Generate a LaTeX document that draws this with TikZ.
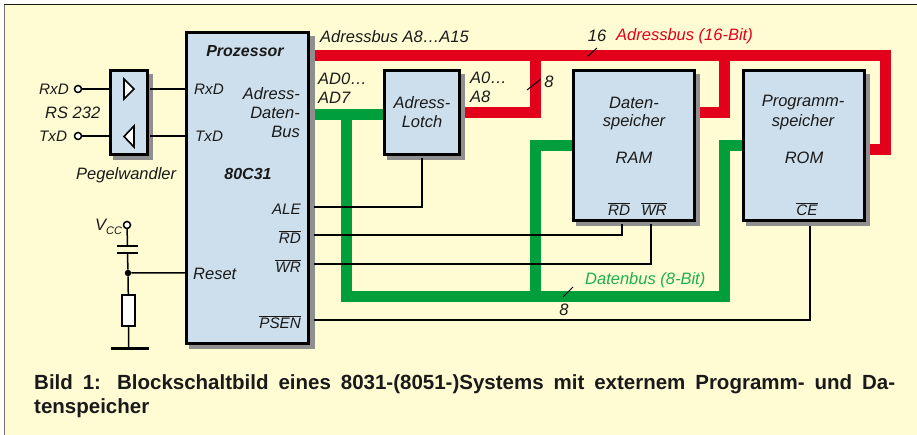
\documentclass[tikz,border=0pt]{standalone}
\usepackage{fontspec}
\setmainfont{Liberation Sans}
\definecolor{bgy}{HTML}{FFFBD2}
\definecolor{boxb}{HTML}{CDDFEC}
\definecolor{busr}{HTML}{E2001A}
\definecolor{busg}{HTML}{009F3C}
\definecolor{txtg}{HTML}{1DAF50}
\definecolor{shad}{HTML}{8F8F8F}
\definecolor{ink}{HTML}{1A1A1A}
\newcommand{\ovl}[1]{$\overline{\mbox{#1}}$}
\tikzset{
  x=1pt,y=-1pt,
  blockbox/.style={draw=black,line width=3pt,fill=boxb,rectangle,inner sep=0pt,anchor=north west},
  shadowbox/.style={fill=shad,draw=none},
  lab/.style={font=\fontsize{16.5}{16.5}\selectfont\itshape,text=ink,inner sep=0pt},
  slab/.style={font=\fontsize{15.2}{15.2}\selectfont\itshape,text=ink,inner sep=0pt},
  blab/.style={font=\fontsize{16}{16}\selectfont\itshape\bfseries,text=ink,inner sep=0pt},
  wire/.style={line width=1.5pt,black},
  redbus/.style={line width=11pt,busr,line join=miter},
  greenbus/.style={line width=11pt,busg,line join=miter},
  term/.style={circle,draw=black,line width=1.5pt,fill=white,minimum size=7pt,inner sep=0pt},
}
\begin{document}
\begin{tikzpicture}
\useasboundingbox (0,0) rectangle (917,435);
\fill[white] (0,0) rectangle (917,435);
\fill[bgy] (4,4.5) rectangle (917,435);
\draw[line width=1.2pt,shad!80!black] (4.5,4.5) -- (4.5,435);
\draw[line width=1.6pt,ink] (4,4.5) -- (917,4.5);

% named anchors
\coordinate (procR) at (309,55.5);
\coordinate (busE) at (885,55.5);
\coordinate (busS) at (885,150);
\coordinate (romR) at (869,150);
\coordinate (ramT) at (724,55.5);
\coordinate (ramB) at (724,112.5);
\coordinate (ramR) at (696,112.5);
\coordinate (latT) at (535.5,55.5);
\coordinate (latB) at (535.5,112.5);
\coordinate (latR) at (465,112.5);
\coordinate (adL) at (309,115);
\coordinate (adR) at (384,115);
\coordinate (gA) at (346.5,115);
\coordinate (gB) at (346.5,296.5);
\coordinate (gC) at (724,296.5);
\coordinate (gD) at (724,146);
\coordinate (gE) at (743,146);
\coordinate (gF) at (535.5,296.5);
\coordinate (gG) at (535.5,146);
\coordinate (gH) at (573,146);

% buses
\draw[redbus] (procR) -- (busE) -- (busS) -- (romR);
\draw[redbus] (ramT) -- (ramB) -- (ramR);
\draw[redbus] (latT) -- (latB) -- (latR);
\draw[greenbus] (adL) -- (adR);
\draw[greenbus] (gA) -- (gB) -- (gC) -- (gD) -- (gE);
\draw[greenbus] (gF) -- (gG) -- (gH);

% shadows
\fill[shadowbox] (113,74) rectangle (153,160);
\fill[shadowbox] (189,36) rectangle (314.5,349);
\fill[shadowbox] (387,74) rectangle (465,160);
\fill[shadowbox] (576,74) rectangle (699.5,226);
\fill[shadowbox] (746,74) rectangle (869.5,226);

% blocks
\node[blockbox,minimum width=37pt,minimum height=83.5pt] (peg) at (109,69.5) {};
\node[blockbox,minimum width=122pt,minimum height=310.5pt] (proc) at (185,31.5) {};
\node[blockbox,minimum width=75pt,minimum height=83.5pt] (lat) at (383,69.5) {};
\node[blockbox,minimum width=121pt,minimum height=150pt] (ram) at (572,69.5) {};
\node[blockbox,minimum width=121pt,minimum height=150pt] (rom) at (742,69.5) {};

% level converter
\node[term] (rxd) at (78,89) {};
\node[term] (txd) at (78,136) {};
\coordinate (pegRl) at (110,89);
\coordinate (pegTl) at (110,136);
\coordinate (pegRr) at (150,89);
\coordinate (pegTr) at (150,136);
\coordinate (procRx) at (186,89);
\coordinate (procTx) at (186,136);
\draw[wire] (rxd) -- (pegRl) (txd) -- (pegTl) (pegRr) -- (procRx) (pegTr) -- (procTx);
\draw[line width=1.6pt,fill=white] (124,79) -- (134,89) -- (124,99) -- cycle;
\draw[line width=1.6pt,fill=white] (134,126) -- (124,136.5) -- (134,147) -- cycle;

% control wires
\coordinate (aleP) at (314,207);
\coordinate (aleC) at (422,207);
\coordinate (latS) at (422,158);
\coordinate (rdP) at (314,235);
\coordinate (rdC) at (622,235);
\coordinate (rdS) at (622,224);
\coordinate (wrP) at (314,264);
\coordinate (wrC) at (651,264);
\coordinate (wrS) at (651,224);
\coordinate (psP) at (314,320);
\coordinate (psC) at (810,320);
\coordinate (psS) at (810,226);
\draw[wire] (aleP) -- (aleC) -- (latS);
\draw[wire] (rdP) -- (rdC) -- (rdS);
\draw[wire] (wrP) -- (wrC) -- (wrS);
\draw[wire] (psP) -- (psC) -- (psS);

% reset network
\node[term] (vcc) at (127,225) {};
\node[circle,fill=black,minimum size=6.5pt,inner sep=0pt] (dot) at (128,273) {};
\coordinate (capT) at (127.5,246);
\coordinate (capB) at (127.5,253);
\coordinate (resetIn) at (186,273);
\node[draw=black,line width=2pt,fill=white,rectangle,minimum width=13pt,minimum height=31pt,inner sep=0pt] (res) at (128.5,310.5) {};
\coordinate (gndC) at (128.5,348);
\coordinate (gndL) at (111,348);
\coordinate (gndR) at (149,348);
\coordinate (capLT) at (117,246);
\coordinate (capRT) at (138,246);
\coordinate (capLB) at (117,253);
\coordinate (capRB) at (138,253);
\draw[wire] (vcc) -- (capT) (capB) -- (dot) (dot) -- (resetIn) (dot) -- (res) (res) -- (gndC);
\draw[line width=2.6pt] (capLT) -- (capRT) (capLB) -- (capRB);
\draw[line width=3pt] (gndL) -- (gndR);

% bus ticks
\coordinate (t1a) at (588,56);\coordinate (t1b) at (597,48);
\coordinate (t2a) at (527,90);\coordinate (t2b) at (541,79);
\coordinate (t3a) at (563,297);\coordinate (t3b) at (573,287);
\draw[line width=1pt,black] (t1a) -- (t1b) (t2a) -- (t2b) (t3a) -- (t3b);

% labels
\node[slab,anchor=west] (l1) at (39,89) {RxD};
\node[slab,anchor=west] (l2) at (39,136) {TxD};
\node[lab,anchor=west] (l3) at (45,113) {RS 232};
\node[lab,anchor=west] (l4) at (76,175) {Pegelwandler};
\node[blab] (l5) at (245,51) {Prozessor};
\node[slab,anchor=west] (l6) at (194,89) {RxD};
\node[slab,anchor=west] (l7) at (195,136) {TxD};
\node[lab,anchor=east] (l8) at (300,94) {Adress-};
\node[lab,anchor=east] (l9) at (300,113) {Daten-};
\node[lab,anchor=east] (l10) at (300,132) {Bus};
\node[blab] (l11) at (248,174) {80C31};
\node[slab,anchor=east] (l12) at (301,209) {ALE};
\node[slab,anchor=east] (l13) at (301,237) {\ovl{RD}};
\node[slab,anchor=east] (l14) at (301,266) {\ovl{WR}};
\node[lab,anchor=west] (l15) at (193,274) {Reset};
\node[slab,anchor=east] (l16) at (301,322) {\ovl{PSEN}};
\node[lab,anchor=west] (l17) at (95,227) {V\raisebox{-4pt}{\fontsize{11}{11}\selectfont CC}};
\node[lab,anchor=west] (l18) at (320,37) {Adressbus A8…A15};
\node[lab,anchor=west] (l19) at (318,79) {AD0…};
\node[lab,anchor=west] (l20) at (318,98) {AD7};
\node[lab] (l21) at (422,103) {Adress-};
\node[lab] (l22) at (422,122) {Lotch};
\node[lab,anchor=west] (l23) at (470,78) {A0…};
\node[lab,anchor=west] (l24) at (470,97) {A8};
\node[lab] (l25) at (549,82) {8};
\node[lab] (l26) at (597,36) {16};
\node[lab,text=busr,anchor=west] (l27) at (616,36) {Adressbus (16-Bit)};
\node[lab] (l28) at (634,103) {Daten-};
\node[lab] (l29) at (634,122) {speicher};
\node[lab] (l30) at (634,158) {RAM};
\node[slab] (l31) at (619,209) {\ovl{RD}};
\node[slab] (l32) at (654,209) {\ovl{WR}};
\node[lab] (l33) at (803,103) {Programm-};
\node[lab] (l34) at (803,122) {speicher};
\node[lab] (l35) at (804,158) {ROM};
\node[slab] (l36) at (807,209) {\ovl{CE}};
\node[lab,text=txtg,anchor=west] (l37) at (585,280) {Datenbus (8-Bit)};
\node[lab] (l38) at (564,310) {8};
\node[font=\fontsize{20.5}{24}\selectfont\bfseries,text=ink,inner sep=0pt,anchor=west,align=left] (cap) at (34,396)
 {\makebox[861pt][s]{Bild 1: Blockschaltbild eines 8031-(8051-)Systems mit externem Programm- und Da-}\\tenspeicher};
\end{tikzpicture}
\end{document}
